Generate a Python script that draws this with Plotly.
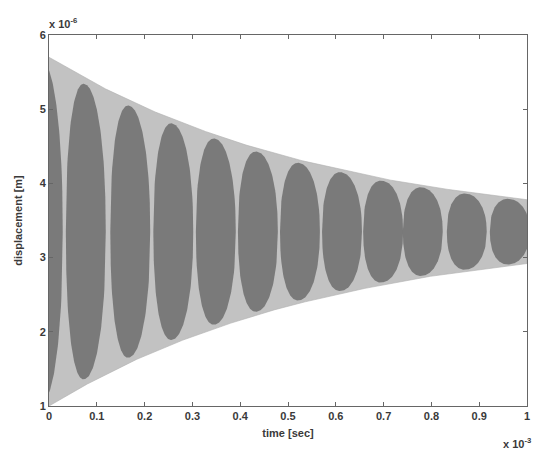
import numpy as np
import plotly.graph_objects as go

# Envelope of the displacement signal (units of 1e-6 m, time in 1e-3 s)
time_knots = [0.0, 0.1, 0.2, 0.3, 0.4, 0.5, 0.6, 0.7, 0.8, 0.9, 1.0]
upper_env = [5.70, 5.33, 5.02, 4.76, 4.54, 4.35, 4.20, 4.06, 3.95, 3.86, 3.78]
lower_env = [1.00, 1.37, 1.68, 1.94, 2.16, 2.35, 2.50, 2.64, 2.75, 2.84, 2.92]
# centres of the dark beat lobes
beat_centres = [-0.013, 0.077, 0.170, 0.260, 0.349, 0.437, 0.525, 0.613, 0.699, 0.782, 0.874, 0.964]

x_ticks = [0, 0.1, 0.2, 0.3, 0.4, 0.5, 0.6, 0.7, 0.8, 0.9, 1]
x_tick_text = ["0", "0.1", "0.2", "0.3", "0.4", "0.5", "0.6", "0.7", "0.8", "0.9", "1"]
y_ticks = [1, 2, 3, 4, 5, 6]

t = np.linspace(0, 1, 600)
up = np.interp(t, time_knots, upper_env)
lo = np.interp(t, time_knots, lower_env)

fig = go.Figure()
# light region filled by the fast oscillation
fig.add_trace(go.Scatter(x=np.concatenate([t, t[::-1]]), y=np.concatenate([up, lo[::-1]]),
                         fill="toself", fillcolor="#c2c2c2", line=dict(width=0.6, color="#b0b0b0"),
                         mode="lines", hoverinfo="skip", showlegend=False))

period = float(np.mean(np.diff(beat_centres)))
half = 0.47 * period
p = 2.2
for tc in beat_centres:
    tt = np.linspace(tc - half, tc + half, 90)
    u = np.abs((tt - tc) / half)
    shape = np.clip(1 - u ** p, 0, 1) ** (1 / p)
    tq = np.clip(tt, 0, 1)
    ui = np.interp(tq, time_knots, upper_env)
    li = np.interp(tq, time_knots, lower_env)
    mid = (ui + li) / 2
    amp = (ui - li) / 2 * 0.96
    yu = mid + amp * shape
    yl = mid - amp * shape
    fig.add_trace(go.Scatter(x=np.concatenate([tt, tt[::-1]]), y=np.concatenate([yu, yl[::-1]]),
                             fill="toself", fillcolor="#7a7a7a", line=dict(width=0),
                             mode="lines", hoverinfo="skip", showlegend=False))

font = dict(family="Liberation Sans, Arial, sans-serif", size=11, color="#3a3a3a", weight="bold")
title_font = dict(family="Liberation Sans, Arial, sans-serif", size=11, color="#3a3a3a", weight="bold")
axis_common = dict(showgrid=False, zeroline=False, showline=True, linecolor="#666666", linewidth=1,
                   mirror="ticks", ticks="inside", ticklen=4, tickcolor="#666666", tickfont=font,
                   automargin=False, ticklabeloverflow="allow")

fig.update_layout(
    width=533, height=453,
    margin=dict(l=49, r=6, t=35, b=47),
    paper_bgcolor="white", plot_bgcolor="white",
    xaxis=dict(range=[0, 1], tickvals=x_ticks, ticktext=x_tick_text,
               title=dict(text="time [sec]", font=title_font, standoff=8), **axis_common),
    yaxis=dict(range=[1, 6], tickvals=y_ticks,
               title=dict(text="displacement [m]", font=title_font, standoff=14), **axis_common),
    annotations=[
        dict(text="x 10<sup>-6</sup>", xref="paper", yref="paper", x=0.0, y=1.0, xanchor="left",
             yanchor="bottom", showarrow=False, font=font, xshift=-2, yshift=3),
        dict(text="x 10<sup>-3</sup>", xref="paper", yref="paper", x=1.0, y=0.0, xanchor="right",
             yanchor="top", showarrow=False, font=font, xshift=6, yshift=-28),
    ],
)

fig.write_html("out.html", config={"displayModeBar": False},
               post_script="document.body.style.margin='0';document.body.style.overflow='hidden';")
